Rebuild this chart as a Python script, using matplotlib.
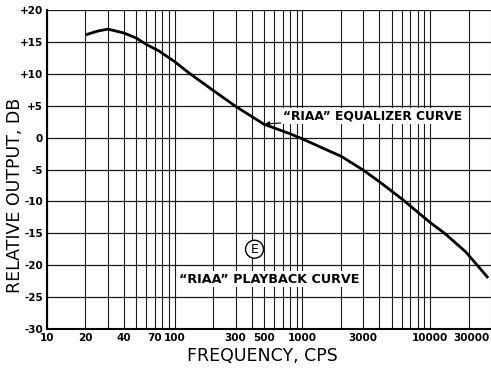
import numpy as np
import matplotlib
matplotlib.use("Agg")
import matplotlib.pyplot as plt
import matplotlib.transforms as mtransforms

# curve (frequency in cps, relative output in dB)
freq = [20, 25, 30, 40, 50, 60, 75, 100, 130, 200, 300, 500, 800, 1000,
        1500, 2000, 3000, 4000, 6000, 10000, 13000, 19000, 28500]
db = [16.1, 16.7, 17.0, 16.4, 15.6, 14.6, 13.6, 11.9, 10.1, 7.4, 4.9, 2.1,
      0.6, -0.2, -1.8, -2.9, -5.1, -6.9, -9.6, -13.3, -15.0, -17.9, -22.0]

x_ticks = [10, 20, 40, 70, 100, 300, 500, 1000, 3000, 10000, 30000]
x_tick_labels = ["10", "20", "40", "70", "100", "300", "500", "1000",
                 "3000", "10000", "30000"]
y_ticks = [20, 15, 10, 5, 0, -5, -10, -15, -20, -25, -30]
y_tick_labels = ["+20", "+15", "+10", "+5", "0", "-5", "-10", "-15",
                 "-20", "-25", "-30"]

# grid lines at every 1-9 step inside each decade
grid_freqs = [m * 10 ** d for d in range(1, 5) for m in range(1, 10)]

fig = plt.figure(figsize=(4.91, 3.70), dpi=100)
ax = fig.add_axes([47 / 491, 1 - 329 / 370, 1 - 47 / 491, (329 - 10) / 370])

ax.set_xscale("log")
ax.set_xticks(x_ticks)
ax.set_xticklabels(x_tick_labels)
ax.set_yticks(y_ticks)
ax.set_yticklabels(y_tick_labels)
ax.xaxis.set_minor_locator(plt.NullLocator())
ax.tick_params(which="both", length=0, labelsize=7.5, pad=3)
for lab in ax.get_xticklabels() + ax.get_yticklabels():
    lab.set_fontweight("bold")

# last label sits right at the edge of the sheet
last = ax.get_xticklabels()[-1]
last.set_horizontalalignment("right")
last.set_transform(last.get_transform() +
                   mtransforms.ScaledTranslation(-1 / 100, 0, fig.dpi_scale_trans))

for f in grid_freqs:
    ax.axvline(f, color="#1a1a1a", lw=0.8, zorder=1)
for v in y_ticks:
    ax.axhline(v, color="#1a1a1a", lw=0.9, zorder=1)

ax.set_xlim(10, 30000)
ax.set_ylim(-30, 20)

for side in ["top", "right"]:
    ax.spines[side].set_visible(False)
ax.spines["left"].set_linewidth(1.5)
ax.spines["bottom"].set_linewidth(1.5)

ax.plot(freq, db, color="black", lw=2.0, zorder=3, solid_capstyle="butt")

ax.annotate("\u201cRIAA\u201d EQUALIZER CURVE", xy=(505, 2.1), xytext=(700, 3.4),
            ha="left", va="center", fontsize=8.8, fontweight="bold",
            bbox=dict(facecolor="white", edgecolor="none", pad=1),
            arrowprops=dict(arrowstyle="-|>", color="black", lw=0.8,
                            shrinkA=0, shrinkB=0, mutation_scale=7),
            zorder=4)

ax.text(109, -22.2, "\u201cRIAA\u201d PLAYBACK CURVE", ha="left", va="center",
        fontsize=9.2, fontweight="bold",
        bbox=dict(facecolor="white", edgecolor="none", pad=1), zorder=4)

ax.text(422, -17.5, "E", ha="center", va="center", fontsize=9,
        bbox=dict(boxstyle="circle,pad=0.2", facecolor="white",
                  edgecolor="black", lw=1.0), zorder=4)

fig.text(15 / 491, 1 - 195 / 370, "RELATIVE OUTPUT, DB", rotation=90,
         ha="center", va="center", fontsize=12.5)
fig.text(262 / 491, 1 - 356 / 370, "FREQUENCY, CPS", ha="center",
         va="center", fontsize=12.5)

fig.savefig("out.png", dpi=100)
